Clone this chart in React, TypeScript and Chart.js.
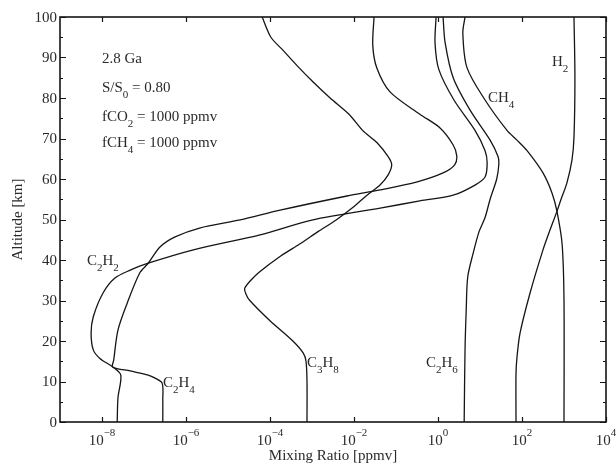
import React, { useEffect, useRef } from 'react';
import { Chart, registerables } from 'chart.js';

Chart.register(...registerables);

// ---- Data (altitude in km, mixing ratio in ppmv) ----
const altC2H2 = [0, 6, 11.6, 13.6, 15.7, 17.8, 22, 26, 31.8, 35.5, 37.5, 39.2, 42.5, 46.2, 49.9, 52.8, 54.6, 56, 58.5, 60.5, 64, 67, 72, 79.5, 87, 93.6, 100];
const ppmvC2H2 = [2.3e-8, 2.4e-8, 2.8e-8, 1.8e-8, 8.9e-9, 6.2e-9, 5.5e-9, 6.2e-9, 1.05e-8, 2.0e-8, 4.7e-8, 1.26e-7, 1.5e-6, 5.8e-5, 1.05e-3, 0.042, 0.37, 2.3, 7.6, 13.2, 14.8, 13.2, 7.6, 2.4, 1.05, 0.85, 0.9];

const altC2H4 = [0, 5.4, 9.6, 10.9, 11.6, 12.6, 13.6, 15.3, 22.7, 29.4, 36.8, 39.2, 43.2, 45.7, 47.9, 49.9, 52.3, 55.8, 57.3, 59.3, 61.5, 63.5, 65.7, 68.4, 72.6, 76, 81.5, 87.4, 93, 100];
const ppmvC2H4 = [2.8e-7, 2.8e-7, 2.7e-7, 1.8e-7, 1.26e-7, 4.7e-8, 1.8e-8, 1.9e-8, 2.4e-8, 4.0e-8, 7.9e-8, 1.26e-7, 2.4e-7, 5.5e-7, 2.1e-6, 1.95e-5, 1.74e-4, 6.8e-3, 0.042, 0.32, 1.32, 2.5, 2.8, 2.3, 1.12, 0.37, 0.072, 0.035, 0.028, 0.03];

const altC3H8 = [0, 10, 15, 17, 20, 25, 30, 31.5, 33, 35, 37, 41, 44, 47, 50, 53, 56, 58.5, 61, 63.5, 65.5, 69, 72, 76, 80, 84, 88, 92, 95, 100];
const ppmvC3H8 = [7.6e-4, 7.6e-4, 7.2e-4, 6.2e-4, 3.5e-4, 1.0e-4, 3.3e-5, 2.7e-5, 2.5e-5, 3.5e-5, 5.5e-5, 1.8e-4, 5.2e-4, 1.39e-3, 3.9e-3, 9.5e-3, 0.0204, 0.0416, 0.065, 0.079, 0.065, 0.035, 0.016, 7.6e-3, 2.7e-3, 1.05e-3, 4.4e-4, 1.95e-4, 1.05e-4, 6.5e-5];

const altC2H6 = [0, 17.8, 27.7, 35.8, 41.5, 47, 50.5, 55, 60, 63.5, 65.5, 69.6, 77, 85, 93.6, 100];
const ppmvC2H6 = [4.2, 4.4, 4.7, 5.1, 6.8, 9.5, 13.2, 17.4, 25, 28, 27, 17.4, 5.8, 2.3, 1.48, 1.32];

const altCH4 = [0, 30, 44, 52, 56.5, 61.5, 67, 69.6, 72, 79.5, 87.5, 96, 100];
const ppmvCH4 = [1000, 1000, 900, 680, 520, 316, 132, 76, 44, 13.2, 4.9, 3.9, 4.4];

const altH2 = [0, 12, 16, 22, 31.8, 42.5, 47.4, 52, 55, 59, 64.7, 70.4, 85, 100];
const ppmvH2 = [72, 72, 76, 90, 155, 316, 464, 680, 850, 1170, 1550, 1730, 1820, 1730];

const xTickExponents = [-8, -6, -4, -2, 0, 2, 4];
const yMajorTicks = [0, 10, 20, 30, 40, 50, 60, 70, 80, 90, 100];
const yMinorTicks = [5, 15, 25, 35, 45, 55, 65, 75, 85, 95];

const annotationLines = ['2.8 Ga', 'S/S_0 = 0.80', 'fCO_2 = 1000 ppmv', 'fCH_4 = 1000 ppmv'];
const speciesLabels = ['C_2H_2', 'C_2H_4', 'C_3H_8', 'C_2H_6', 'CH_4', 'H_2'];

const FONT = '"Liberation Serif", "Times New Roman", serif';
const TEXT_COLOR = '#2a2a2a';
const LINE_COLOR = '#151515';

type Part = { s: string; k: 'n' | 'sub' | 'sup' };

function parseRich(text: string): Part[] {
  const parts: Part[] = [];
  let i = 0;
  let buf = '';
  const flush = () => {
    if (buf) parts.push({ s: buf, k: 'n' });
    buf = '';
  };
  while (i < text.length) {
    const c = text[i];
    if (c === '_' || c === '^') {
      flush();
      const kind = c === '_' ? 'sub' : 'sup';
      if (text[i + 1] === '{') {
        const end = text.indexOf('}', i + 2);
        parts.push({ s: text.slice(i + 2, end), k: kind });
        i = end + 1;
      } else {
        parts.push({ s: text[i + 1], k: kind });
        i += 2;
      }
    } else {
      buf += c;
      i++;
    }
  }
  flush();
  return parts;
}

function drawRich(ctx: CanvasRenderingContext2D, text: string, x: number, y: number, align: 'left' | 'center' | 'right', size = 15) {
  const parts = parseRich(text);
  const small = Math.round(size * 0.74);
  const fontFor = (p: Part) => `${p.k === 'n' ? size : small}px ${FONT}`;
  let total = 0;
  const widths = parts.map((p) => {
    ctx.font = fontFor(p);
    const w = ctx.measureText(p.s).width;
    total += w;
    return w;
  });
  let cx = align === 'left' ? x : align === 'center' ? x - total / 2 : x - total;
  ctx.textAlign = 'left';
  ctx.textBaseline = 'alphabetic';
  parts.forEach((p, idx) => {
    ctx.font = fontFor(p);
    const dy = p.k === 'sub' ? size * 0.4 : p.k === 'sup' ? -size * 0.6 : 0;
    ctx.fillText(p.s, cx, y + dy);
    cx += widths[idx];
  });
}

const paperAxes = {
  id: 'paperAxes',
  afterDatasetsDraw(chart: any) {
    const { ctx, chartArea: a, scales } = chart;
    const xs = scales.x;
    const ys = scales.y;
    ctx.save();
    ctx.strokeStyle = LINE_COLOR;
    ctx.fillStyle = TEXT_COLOR;

    // ticks (inward)
    ctx.lineWidth = 1.2;
    ctx.beginPath();
    xTickExponents.forEach((e) => {
      const px = Math.round(xs.getPixelForValue(Math.pow(10, e))) + 0.5;
      ctx.moveTo(px, a.bottom);
      ctx.lineTo(px, a.bottom - 5);
      ctx.moveTo(px, a.top);
      ctx.lineTo(px, a.top + 5);
    });
    yMajorTicks.forEach((v) => {
      const py = Math.round(ys.getPixelForValue(v)) + 0.5;
      ctx.moveTo(a.left, py);
      ctx.lineTo(a.left + 6, py);
      ctx.moveTo(a.right, py);
      ctx.lineTo(a.right - 6, py);
    });
    yMinorTicks.forEach((v) => {
      const py = Math.round(ys.getPixelForValue(v)) + 0.5;
      ctx.moveTo(a.left, py);
      ctx.lineTo(a.left + 3, py);
      ctx.moveTo(a.right, py);
      ctx.lineTo(a.right - 3, py);
    });
    ctx.stroke();

    // frame
    ctx.lineWidth = 1.6;
    ctx.strokeRect(a.left, a.top, a.right - a.left, a.bottom - a.top);

    // x tick labels
    xTickExponents.forEach((e) => {
      const px = xs.getPixelForValue(Math.pow(10, e));
      const exp = e < 0 ? '\u2212' + String(-e) : String(e);
      drawRich(ctx, `10^{${exp}}`, px, 445, 'center', 15);
    });
    // y tick labels
    yMajorTicks.forEach((v) => {
      ctx.textAlign = 'right';
      ctx.textBaseline = 'middle';
      ctx.font = `15px ${FONT}`;
      ctx.fillText(String(v), a.left - 3, ys.getPixelForValue(v) + 1);
    });

    // axis titles
    drawRich(ctx, 'Mixing Ratio [ppmv]', (a.left + a.right) / 2, 460, 'center', 15);
    ctx.save();
    ctx.translate(22, (a.top + a.bottom) / 2);
    ctx.rotate(-Math.PI / 2);
    drawRich(ctx, 'Altitude [km]', 0, 0, 'center', 15);
    ctx.restore();

    // annotation block
    const annY = [63, 92, 121, 147];
    annotationLines.forEach((t, i) => drawRich(ctx, t, 102, annY[i], 'left', 15));

    // species labels
    const labelPos = [
      [87, 265],
      [163, 387],
      [307, 367],
      [426, 367],
      [488, 102],
      [552, 66],
    ];
    speciesLabels.forEach((t, i) => drawRich(ctx, t, labelPos[i][0], labelPos[i][1], 'left', 15));

    ctx.restore();
  },
};

function pairs(alts: number[], vals: number[]) {
  return alts.map((alt, i) => ({ x: vals[i], y: alt }));
}

export default function App() {
  const canvasRef = useRef<HTMLCanvasElement | null>(null);

  useEffect(() => {
    if (!canvasRef.current) return;
    const series = [
      ['C2H2', altC2H2, ppmvC2H2],
      ['C2H4', altC2H4, ppmvC2H4],
      ['C3H8', altC3H8, ppmvC3H8],
      ['C2H6', altC2H6, ppmvC2H6],
      ['CH4', altCH4, ppmvCH4],
      ['H2', altH2, ppmvH2],
    ] as [string, number[], number[]][];

    const chart = new Chart(canvasRef.current, {
      type: 'scatter',
      data: {
        datasets: series.map(([name, alts, vals]) => ({
          label: name,
          data: pairs(alts, vals),
          showLine: true,
          borderColor: LINE_COLOR,
          backgroundColor: LINE_COLOR,
          borderWidth: 1.3,
          pointRadius: 0,
          pointHoverRadius: 0,
          tension: 0.3,
          fill: false,
        })),
      },
      options: {
        responsive: false,
        animation: false,
        events: [],
        layout: { padding: { top: 17, right: 10, left: 0, bottom: 0 } },
        plugins: {
          legend: { display: false },
          tooltip: { enabled: false },
        },
        scales: {
          x: {
            type: 'logarithmic',
            min: 1e-9,
            max: 1e4,
            grid: { display: false },
            border: { display: false },
            ticks: { display: false },
            afterFit: (s: any) => {
              s.height = 44;
            },
          },
          y: {
            type: 'linear',
            min: 0,
            max: 100,
            grid: { display: false },
            border: { display: false },
            ticks: { display: false },
            afterFit: (s: any) => {
              s.width = 60;
            },
          },
        },
      },
      plugins: [paperAxes],
    } as any);

    return () => chart.destroy();
  }, []);

  return (
    <div style={{ position: 'fixed', left: 0, top: 0, width: 616, height: 466, background: '#fff' }}>
      <canvas ref={canvasRef} width={616} height={466} style={{ display: 'block' }} />
    </div>
  );
}
